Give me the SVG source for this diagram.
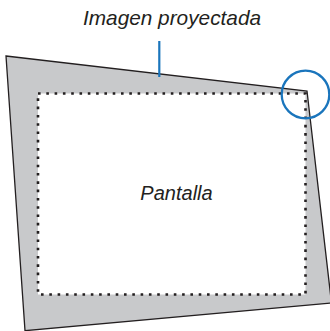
<svg xmlns="http://www.w3.org/2000/svg" width="330" height="331" viewBox="0 0 330 331">
  <style>
    .lbl { font-family: "Liberation Sans", Arial, sans-serif; font-style: italic; fill: #231f20; }
    .blue { stroke: #1a75bc; fill: none; }
  </style>
  <rect width="330" height="331" fill="#ffffff"/>
  <g id="projected-image">
    <polygon points="6,56 307,91 331.5,303 25,330.7" fill="#c8c9cb" stroke="#231f20" stroke-width="1.3" stroke-linejoin="miter"/>
  </g>
  <g id="screen">
    <rect x="38" y="93.5" width="267.5" height="201" fill="#ffffff" stroke="#231f20" stroke-width="2.6" stroke-dasharray="2.6 5.7"/>
    <text class="lbl" x="176.5" y="200" text-anchor="middle" font-size="20">Pantalla</text>
  </g>
  <g id="label-projected">
    <text class="lbl" x="172" y="25" text-anchor="middle" font-size="20.8">Imagen proyectada</text>
  </g>
  <g id="connectors">
    <line class="blue" x1="159.3" y1="41" x2="159.3" y2="77" stroke-width="2.2"/>
    <circle id="corner-highlight" class="blue" cx="305.5" cy="94.5" r="23.8" stroke-width="2.3"/>
  </g>
</svg>
